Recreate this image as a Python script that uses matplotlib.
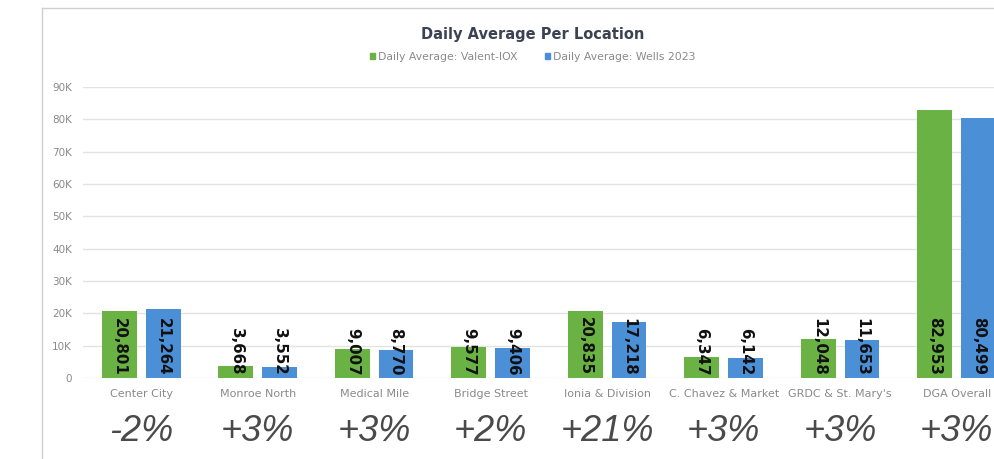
import matplotlib
matplotlib.use("Agg")
import matplotlib.pyplot as plt
from matplotlib.lines import Line2D
from matplotlib.patches import Patch
import numpy as np

locations = ["Center City", "Monroe North", "Medical Mile", "Bridge Street",
             "Ionia & Division", "C. Chavez & Market", "GRDC & St. Mary's",
             "DGA Overall"]
avg_current = [20801, 3668, 9007, 9577, 20835, 6347, 12048, 82953]
avg_2023 = [21264, 3552, 8770, 9406, 17218, 6142, 11653, 80499]
pct_change = ["-2%", "+3%", "+3%", "+2%", "+21%", "+3%", "+3%", "+3%"]
yticks = [0, 10000, 20000, 30000, 40000, 50000, 60000, 70000, 80000, 90000]
ytick_labels = ["0", "10K", "20K", "30K", "40K", "50K", "60K", "70K", "80K", "90K"]
series_names = ["Daily Average: Valent-IOX", "Daily Average: Wells 2023"]

GREEN = "#6ab243"
BLUE = "#4b8fd7"
W, H = 994, 459

fig = plt.figure(figsize=(W / 100, H / 100), dpi=100)
ax = fig.add_axes([83 / W, (H - 378) / H, 911 / W, 291 / H])

x = np.arange(len(locations))
bw = 0.30
off = 0.187
b1 = ax.bar(x - off, avg_current, width=bw, color=GREEN, zorder=3)
b2 = ax.bar(x + off, avg_2023, width=bw, color=BLUE, zorder=3)

for bars, vals in ((b1, avg_current), (b2, avg_2023)):
    for r, v in zip(bars, vals):
        ax.text(r.get_x() + r.get_width() / 2, 800, f"{v:,}", rotation=270,
                ha="center", va="bottom", fontsize=10.8, fontweight="bold",
                color="#111111", zorder=4)

ax.set_xlim(-0.5, 7.32)
ax.set_ylim(0, 90000)
ax.set_yticks(yticks)
ax.set_yticklabels(ytick_labels, fontsize=7.5, color="#8a8a8a")
ax.set_xticks(x)
ax.set_xticklabels(locations, fontsize=8, color="#8a8a8a")
ax.tick_params(axis="both", length=0)
ax.tick_params(axis="y", pad=8)
ax.tick_params(axis="x", pad=8)
ax.grid(True, axis="y", color="#e3e3e3", lw=1, zorder=0)
for s in ax.spines.values():
    s.set_visible(False)

trans = ax.get_xaxis_transform()
for xi, p in zip(x, pct_change):
    ax.text(xi, -0.185, p, transform=trans, ha="center", va="center",
            fontsize=26, fontstyle="italic", family="Liberation Sans",
            color="#4a4a4a")

fig.text(0.536, 1 - 35 / H, "Daily Average Per Location", ha="center",
         va="center", fontsize=10.5, fontweight="bold", color="#3b4252")
handles = [Patch(color=GREEN), Patch(color=BLUE)]
fig.legend(handles, series_names, loc="center", bbox_to_anchor=(0.536, 1 - 57 / H),
           ncol=2, frameon=False, fontsize=7.8, labelcolor="#8a8a8a",
           handlelength=0.5, handleheight=0.5, handletextpad=0.3,
           columnspacing=2.5)

# card border (top and left edges)
fig.add_artist(Line2D([42 / W, 1], [1 - 8 / H, 1 - 8 / H], color="#cfcfcf", lw=1))
fig.add_artist(Line2D([42 / W, 42 / W], [0, 1 - 8 / H], color="#cfcfcf", lw=1))

fig.savefig("out.png", dpi=100)
